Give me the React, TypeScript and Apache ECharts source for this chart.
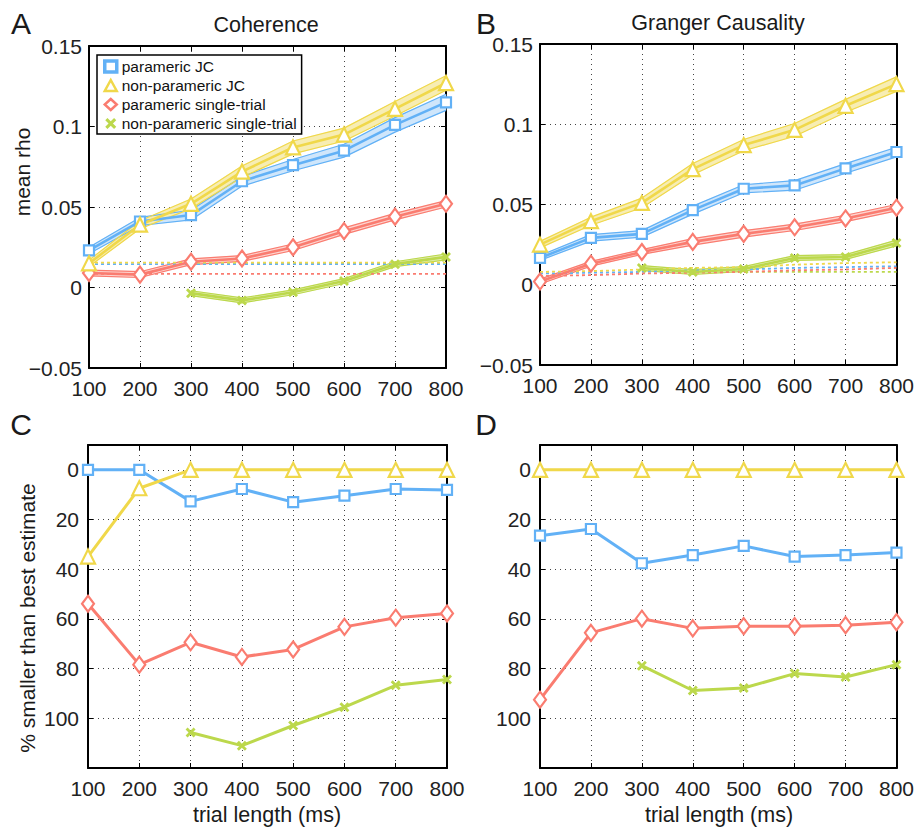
import { useEffect, useRef } from 'react';
import * as echarts from 'echarts';

const trialLengths = [100, 200, 300, 400, 500, 600, 700, 800];
const seriesNames = ['parameric JC', 'non-parameric JC', 'parameric single-trial', 'non-parameric single-trial'];
const colors = ['#62B1F6', '#F0D84A', '#FA7C70', '#BCD84C'];
const fills = ['#CFE6FB', '#F7EDB3', '#FDD5D0', '#E4EFB8'];

// Panel A: coherence, mean rho
const cohParamJC = [0.023, 0.041, 0.045, 0.066, 0.076, 0.085, 0.101, 0.115];
const cohNonParamJC = [0.015, 0.039, 0.052, 0.072, 0.087, 0.095, 0.111, 0.127];
const cohParamST = [0.009, 0.008, 0.016, 0.018, 0.025, 0.035, 0.044, 0.052];
const cohNonParamST = [null, null, -0.0035, -0.008, -0.003, 0.004, 0.0145, 0.019];
const cohParamJCErr = [0.002, 0.0025, 0.003, 0.003, 0.0035, 0.004, 0.0045, 0.005];
const cohNonParamJCErr = [0.002, 0.0025, 0.003, 0.0035, 0.004, 0.004, 0.0045, 0.0045];
const cohParamSTErr = [0.0018, 0.0018, 0.0018, 0.0018, 0.002, 0.002, 0.002, 0.002];
const cohNonParamSTErr = [null, null, 0.0015, 0.0015, 0.0015, 0.0015, 0.0015, 0.0018];
const cohChanceParamJC = [0.0145, 0.0145, 0.0145, 0.0145, 0.0145, 0.0145, 0.0145, 0.0145];
const cohChanceNonParamJC = [0.0155, 0.0155, 0.0155, 0.0155, 0.0155, 0.0155, 0.0155, 0.0155];
const cohChanceParamST = [0.0085, 0.0085, 0.0085, 0.0085, 0.0085, 0.0085, 0.0085, 0.0085];
const cohChanceNonParamST = [null, null, 0.015, 0.015, 0.015, 0.015, 0.015, 0.015];

// Panel B: Granger causality, mean rho
const gcParamJC = [0.0167, 0.0292, 0.0317, 0.0465, 0.0598, 0.0619, 0.0725, 0.0827];
const gcNonParamJC = [0.025, 0.0396, 0.051, 0.072, 0.087, 0.0965, 0.1115, 0.125];
const gcParamST = [0.002, 0.0131, 0.0204, 0.0267, 0.0317, 0.0358, 0.0413, 0.048];
const gcNonParamST = [null, null, 0.0104, 0.0079, 0.0098, 0.0167, 0.0173, 0.026];
const gcParamJCErr = [0.0015, 0.002, 0.002, 0.0025, 0.0025, 0.003, 0.003, 0.003];
const gcNonParamJCErr = [0.002, 0.0025, 0.003, 0.0035, 0.0035, 0.004, 0.004, 0.0045];
const gcParamSTErr = [0.0015, 0.0015, 0.0015, 0.002, 0.002, 0.002, 0.002, 0.002];
const gcNonParamSTErr = [null, null, 0.0015, 0.0015, 0.0015, 0.0015, 0.0015, 0.0018];
const gcChanceParamJC = [0.007, 0.0075, 0.008, 0.009, 0.0095, 0.0105, 0.011, 0.0115];
const gcChanceNonParamJC = [0.008, 0.0085, 0.0095, 0.0105, 0.011, 0.0125, 0.0135, 0.014];
const gcChanceParamST = [0.0055, 0.006, 0.007, 0.0075, 0.008, 0.009, 0.0095, 0.0105];
const gcChanceNonParamST = [null, null, 0.0085, 0.008, 0.008, 0.008, 0.008, 0.008];

// Panel C: coherence, % smaller than best estimate
const cohPctParamJC = [0, 0, 12.7, 7.7, 13, 10.4, 7.7, 8.1];
const cohPctNonParamJC = [34.9, 7.4, 0, 0, 0, 0, 0, 0];
const cohPctParamST = [53.9, 78.4, 69.4, 75.3, 72.3, 63.2, 59.5, 57.8];
const cohPctNonParamST = [null, null, 105.7, 111, 102.9, 95.5, 86.7, 84.4];

// Panel D: Granger causality, % smaller than best estimate
const gcPctParamJC = [26.5, 23.8, 37.6, 34.3, 30.6, 34.9, 34.3, 33.3];
const gcPctNonParamJC = [0, 0, 0, 0, 0, 0, 0, 0];
const gcPctParamST = [92.5, 65.6, 59.9, 63.8, 62.9, 62.9, 62.5, 61.3];
const gcPctNonParamST = [null, null, 78.8, 88.8, 87.8, 82.0, 83.4, 78.4];

const rhoTicks = [-0.05, 0, 0.05, 0.1, 0.15];
const pctTicks = [0, 20, 40, 60, 80, 100];

const FONT = '"Liberation Sans", Arial, Helvetica, sans-serif';
const XPATH = 'path://M2,0 L5,3 L8,0 L10,2 L7,5 L10,8 L8,10 L5,7 L2,10 L0,8 L3,5 L0,2 Z';
const symbols = ['rect', 'triangle', 'diamond', XPATH];
const symbolSizes: any[] = [10, 14, [12, 16], 10];

const grids = [
  { left: 89, top: 46, width: 357, height: 322 },
  { left: 540, top: 44, width: 358, height: 321 },
  { left: 88, top: 445, width: 359, height: 323 },
  { left: 540, top: 445, width: 358, height: 323 },
];

function pts(vals: (number | null)[], off?: (number | null)[], sign = 0) {
  const out: number[][] = [];
  vals.forEach((v, i) => {
    if (v == null) return;
    const e = off ? (off[i] as number) : 0;
    out.push([trialLengths[i], v + sign * e]);
  });
  return out;
}

function bandSeries(g: number, mean: (number | null)[], err: (number | null)[], fill: string) {
  const data: number[][] = [];
  for (let i = 0; i < trialLengths.length - 1; i++) {
    const m0 = mean[i], m1 = mean[i + 1];
    if (m0 == null || m1 == null) continue;
    const e0 = err[i] as number, e1 = err[i + 1] as number;
    data.push([trialLengths[i], m0 - e0, m0 + e0, trialLengths[i + 1], m1 - e1, m1 + e1]);
  }
  return {
    type: 'custom',
    xAxisIndex: 2 * g,
    yAxisIndex: 2 * g,
    silent: true,
    z: 1,
    encode: { x: [0, 3], y: [1, 2, 4, 5] },
    renderItem: (_p: any, api: any) => {
      const a = api.coord([api.value(0), api.value(1)]);
      const b = api.coord([api.value(0), api.value(2)]);
      const c = api.coord([api.value(3), api.value(5)]);
      const d = api.coord([api.value(3), api.value(4)]);
      return { type: 'polygon', shape: { points: [a, b, c, d] }, style: { fill, stroke: fill, lineWidth: 0.6 } };
    },
    data,
  };
}

function lineSeries(g: number, k: number, vals: (number | null)[], width: number) {
  return {
    type: 'line',
    name: seriesNames[k],
    xAxisIndex: 2 * g,
    yAxisIndex: 2 * g,
    data: pts(vals),
    symbol: symbols[k],
    symbolSize: symbolSizes[k],
    showSymbol: true,
    clip: false,
    z: 5,
    lineStyle: { color: colors[k], width },
    itemStyle: k === 3 ? { color: colors[k] } : { color: '#ffffff', borderColor: colors[k], borderWidth: 2.2 },
  };
}

function edgeSeries(g: number, k: number, vals: (number | null)[], err: (number | null)[], sign: number) {
  return {
    type: 'line',
    xAxisIndex: 2 * g,
    yAxisIndex: 2 * g,
    data: pts(vals, err, sign),
    symbol: 'none',
    silent: true,
    z: 2,
    lineStyle: { color: colors[k], width: 1.2 },
  };
}

function chanceSeries(g: number, k: number, vals: (number | null)[]) {
  return {
    type: 'line',
    xAxisIndex: 2 * g,
    yAxisIndex: 2 * g,
    data: pts(vals),
    symbol: 'none',
    silent: true,
    z: 3,
    lineStyle: { color: colors[k], width: 1.8, type: [3, 3] },
  };
}

const gridLine = { show: true, lineStyle: { color: '#444', width: 1, type: [1, 4] } };
const axisLine = { show: true, onZero: false, lineStyle: { color: '#000', width: 2 } };
const tick = { show: true, inside: true, length: 5, lineStyle: { color: '#000', width: 1 } };
const labelStyle = { color: '#222', fontSize: 21, fontFamily: FONT };

function rhoLabel(v: number) {
  const r = Math.round(v * 100) / 100;
  if (r < 0) return '\u2212' + String(Math.abs(r));
  return String(r);
}

function xAxes(g: number) {
  return [
    {
      type: 'value', gridIndex: g, position: 'bottom', min: 100, max: 800, interval: 100,
      axisLine, axisTick: tick, splitLine: gridLine,
      axisLabel: { ...labelStyle, margin: 10 },
    },
    {
      type: 'value', gridIndex: g, position: 'top', min: 100, max: 800, interval: 100,
      axisLine, axisTick: tick, splitLine: { show: false }, axisLabel: { show: false },
    },
  ];
}

function yAxesRho(g: number) {
  return [
    {
      type: 'value', gridIndex: g, position: 'left', min: rhoTicks[0], max: rhoTicks[rhoTicks.length - 1], interval: 0.05,
      axisLine, axisTick: tick, splitLine: gridLine,
      axisLabel: { ...labelStyle, margin: 7, formatter: rhoLabel },
    },
    {
      type: 'value', gridIndex: g, position: 'right', min: rhoTicks[0], max: rhoTicks[rhoTicks.length - 1], interval: 0.05,
      axisLine, axisTick: tick, splitLine: { show: false }, axisLabel: { show: false },
    },
  ];
}

function yAxesPct(g: number) {
  return [
    {
      type: 'value', gridIndex: g, position: 'left', min: -10, max: 120, inverse: true,
      axisLine, axisTick: { ...tick, customValues: pctTicks }, splitLine: gridLine,
      axisLabel: { ...labelStyle, margin: 9, customValues: pctTicks },
    },
    {
      type: 'value', gridIndex: g, position: 'right', min: -10, max: 120, inverse: true,
      axisLine, axisTick: { ...tick, customValues: pctTicks }, splitLine: { show: false }, axisLabel: { show: false },
    },
  ];
}

function rhoPanel(g: number, means: (number | null)[][], errs: (number | null)[][], chance: (number | null)[][]) {
  const s: any[] = [];
  const order = [3, 2, 0, 1];
  order.forEach((k) => s.push(bandSeries(g, means[k], errs[k], fills[k])));
  order.forEach((k) => {
    s.push(edgeSeries(g, k, means[k], errs[k], 1));
    s.push(edgeSeries(g, k, means[k], errs[k], -1));
  });
  [3, 0, 2, 1].forEach((k) => s.push(chanceSeries(g, k, chance[k])));
  order.forEach((k) => s.push(lineSeries(g, k, means[k], 2.6)));
  return s;
}

function pctPanel(g: number, vals: (number | null)[][]) {
  return [3, 2, 0, 1].map((k) => lineSeries(g, k, vals[k], 3));
}

function txt(x: number, y: number, text: string, size: number, rotation = 0) {
  return {
    type: 'text', x, y, rotation, silent: true,
    style: { text, fontSize: size, fontFamily: FONT, fill: '#1a1a1a', align: 'center', verticalAlign: 'middle' },
  };
}

export default function App() {
  const ref = useRef<HTMLDivElement>(null);
  useEffect(() => {
    if (!ref.current) return;
    const chart = echarts.init(ref.current, undefined, { renderer: 'svg' });
    const series = [
      ...rhoPanel(0, [cohParamJC, cohNonParamJC, cohParamST, cohNonParamST],
        [cohParamJCErr, cohNonParamJCErr, cohParamSTErr, cohNonParamSTErr],
        [cohChanceParamJC, cohChanceNonParamJC, cohChanceParamST, cohChanceNonParamST]),
      ...rhoPanel(1, [gcParamJC, gcNonParamJC, gcParamST, gcNonParamST],
        [gcParamJCErr, gcNonParamJCErr, gcParamSTErr, gcNonParamSTErr],
        [gcChanceParamJC, gcChanceNonParamJC, gcChanceParamST, gcChanceNonParamST]),
      ...pctPanel(2, [cohPctParamJC, cohPctNonParamJC, cohPctParamST, cohPctNonParamST]),
      ...pctPanel(3, [gcPctParamJC, gcPctNonParamJC, gcPctParamST, gcPctNonParamST]),
    ];
    chart.setOption({
      animation: false,
      backgroundColor: '#ffffff',
      grid: grids.map((g) => ({ ...g, containLabel: false })),
      xAxis: [...xAxes(0), ...xAxes(1), ...xAxes(2), ...xAxes(3)],
      yAxis: [...yAxesRho(0), ...yAxesRho(1), ...yAxesPct(2), ...yAxesPct(3)],
      legend: {
        orient: 'vertical',
        left: 97,
        top: 55,
        padding: [3, 5, 2, 6],
        itemGap: 2,
        itemWidth: 12,
        itemHeight: 11,
        borderColor: '#000',
        borderWidth: 1.5,
        backgroundColor: '#fff',
        selectedMode: false,
        textStyle: { fontSize: 15.5, lineHeight: 17, fontFamily: FONT, color: '#111' },
        data: [
          { name: seriesNames[0], icon: 'rect', itemStyle: { color: '#fff', borderColor: colors[0], borderWidth: 3.5 } },
          { name: seriesNames[1], icon: 'triangle', itemStyle: { color: '#fff', borderColor: colors[1], borderWidth: 2.5 } },
          { name: seriesNames[2], icon: 'diamond', itemStyle: { color: '#fff', borderColor: colors[2], borderWidth: 2.5 } },
          { name: seriesNames[3], icon: XPATH, itemStyle: { color: colors[3], borderWidth: 0 } },
        ],
      },
      graphic: [
        txt(21, 23, 'A', 30),
        txt(486, 23, 'B', 30),
        txt(21, 424, 'C', 30),
        txt(486, 424, 'D', 30),
        txt(266, 25, 'Coherence', 21.5),
        txt(718, 23, 'Granger Causality', 21.5),
        txt(22, 172, 'mean rho', 21, Math.PI / 2),
        txt(27, 618, '% smaller than best estimate', 21, Math.PI / 2),
        txt(267, 815, 'trial length (ms)', 21.5),
        txt(719, 815, 'trial length (ms)', 21.5),
      ],
      series,
    });
    return () => chart.dispose();
  }, []);
  return <div ref={ref} style={{ position: 'fixed', left: 0, top: 0, width: 917, height: 829 }} />;
}
